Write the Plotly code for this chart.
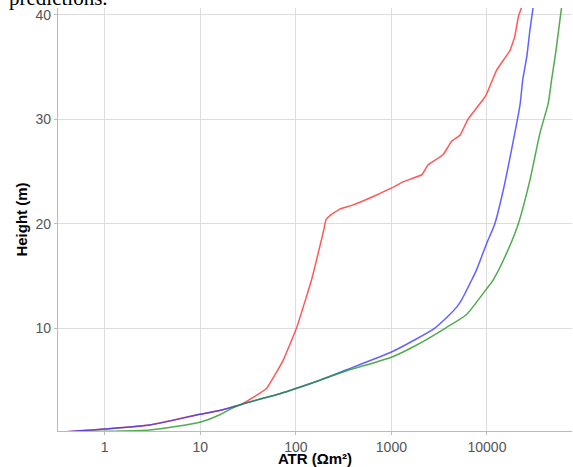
import plotly.graph_objects as go

# ---- data ----
red_atr = [0.324, 0.547, 1.0, 2.96, 9.9, 16.0, 27.2, 49.3, 73.6, 101.7, 129, 146, 178, 196, 207,
           229, 288, 398, 646, 1047, 1318, 2090, 2400, 3470, 4270, 5250, 6310, 9120, 10000,
           12600, 17400, 19500, 21400, 23200]
red_height = [0.0, 0.15, 0.32, 0.7, 1.73, 2.1, 2.7, 4.2, 6.9, 10.0, 13.0, 14.6, 17.8, 19.4, 20.4,
              20.8, 21.4, 21.8, 22.6, 23.5, 24.0, 24.7, 25.6, 26.6, 27.9, 28.5, 30.0, 31.9, 32.5,
              34.7, 36.6, 37.9, 39.9, 40.8]

blue_atr = [0.324, 0.547, 1.0, 2.96, 9.9, 16.0, 27.2, 68, 100, 178, 340, 1000, 1780, 2850, 3980,
            4820, 5430, 6920, 7800, 9930, 12100, 14800, 18100, 22200, 23700, 26100, 28200, 30500]
blue_height = [0.0, 0.15, 0.32, 0.7, 1.73, 2.1, 2.7, 3.7, 4.2, 5.0, 6.0, 7.7, 8.9, 10.0, 11.2,
               12.0, 12.7, 14.6, 15.6, 18.1, 20.0, 23.2, 27.1, 31.4, 33.8, 36.0, 38.6, 40.8]

green_atr = [0.324, 1.0, 2.96, 9.9, 15.8, 21.4, 27.2, 68, 100, 178, 340, 1000, 1780, 3690, 6120,
             8110, 10000, 11600, 16100, 21300, 28200, 35900, 43700, 47500, 52800, 60500]
green_height = [0.0, 0.1, 0.22, 0.96, 1.66, 2.3, 2.7, 3.7, 4.2, 5.0, 5.9, 7.2, 8.3, 10.0, 11.3,
                12.7, 13.8, 14.6, 17.2, 20.0, 24.2, 28.7, 31.5, 33.8, 36.6, 40.8]

x_tickvals = [1, 10, 100, 1000, 10000]
x_ticktext = ["1", "10", "100", "1000", "10000"]
y_tickvals = [10, 20, 30, 40]

fig = go.Figure()
fig.add_trace(go.Scatter(x=red_atr, y=red_height, mode="lines",
                         line=dict(color="rgb(255,60,60)", width=1.5, shape="spline", smoothing=0.3),
                         opacity=0.85))
fig.add_trace(go.Scatter(x=blue_atr, y=blue_height, mode="lines",
                         line=dict(color="rgb(60,60,255)", width=1.5, shape="spline", smoothing=0.5),
                         opacity=0.8))
fig.add_trace(go.Scatter(x=green_atr, y=green_height, mode="lines",
                         line=dict(color="rgb(40,150,40)", width=1.5, shape="spline", smoothing=0.6),
                         opacity=0.8))

fig.update_layout(
    width=573, height=467,
    margin=dict(l=58, r=1, t=8, b=36, autoexpand=False),
    paper_bgcolor="white", plot_bgcolor="white",
    showlegend=False,
    font=dict(family="Liberation Sans, Arial, sans-serif", size=14, color="#555555"),
    xaxis=dict(type="log", range=[-0.489, 4.89], tickvals=x_tickvals, ticktext=x_ticktext,
               automargin=False,
               showgrid=True, gridcolor="#dddddd", gridwidth=1,
               showline=True, linecolor="#bbbbbb", linewidth=1.2,
               ticks="outside", ticklen=3, tickcolor="#bbbbbb",
               zeroline=False, tickfont=dict(size=14, color="#555555"),
               title=dict(text="<b>ATR (Ωm²)</b>", standoff=1,
                          font=dict(size=15, color="black"))),
    yaxis=dict(range=[0.13, 40.67], tickvals=y_tickvals,
               automargin=False,
               showgrid=True, gridcolor="#dddddd", gridwidth=1,
               showline=True, linecolor="#bbbbbb", linewidth=1.2,
               ticks="outside", ticklen=3, tickcolor="#bbbbbb",
               zeroline=False, tickfont=dict(size=14, color="#555555"),
               title=dict(text="<b>Height (m)</b>", standoff=4,
                          font=dict(size=15, color="black"))),
)

fig.add_annotation(text="predictions.", xref="paper", yref="paper",
                   x=-0.1, y=1.0, xanchor="left", yanchor="bottom", yshift=-4,
                   showarrow=False,
                   font=dict(family="Liberation Serif, Times New Roman, serif", size=21, color="black"))

fig.write_html("out.html",
               config={"displayModeBar": False},
               post_script="document.body.style.margin='0';document.body.style.padding='0';"
                           "document.body.style.overflow='hidden';")
